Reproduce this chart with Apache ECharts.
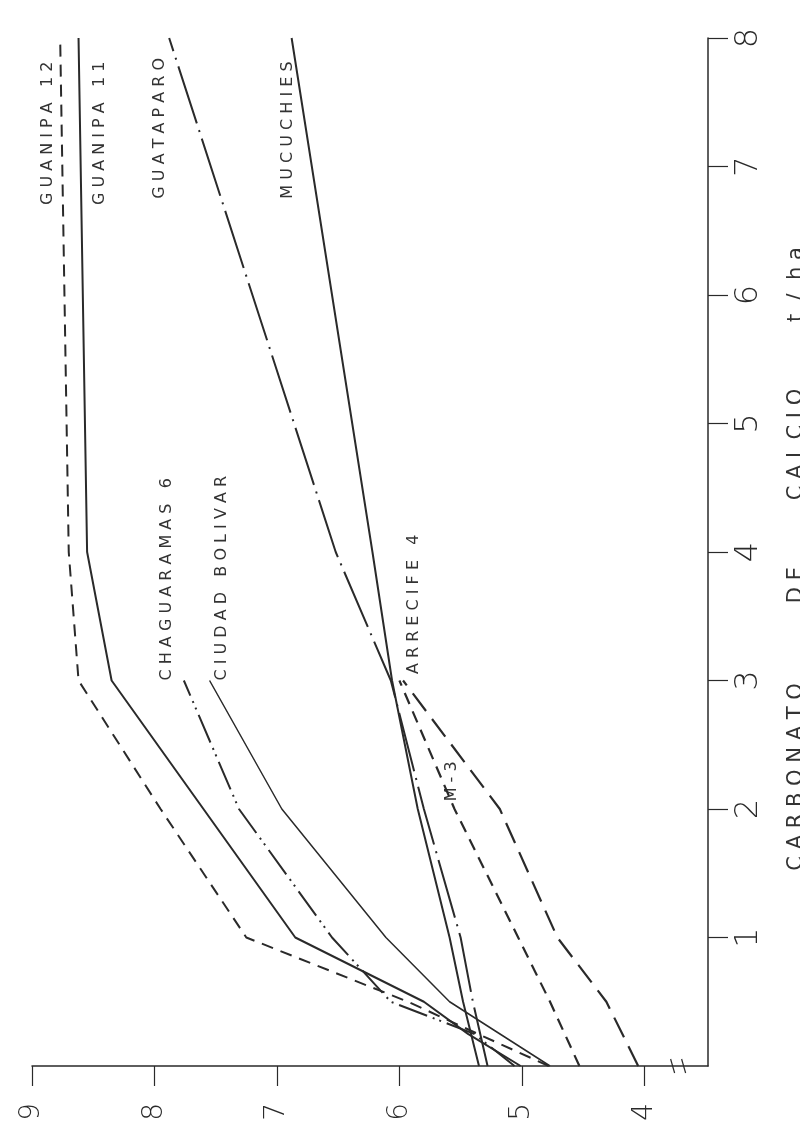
<!DOCTYPE html>
<html>
<head>
<meta charset="utf-8">
<script src="https://cdn.jsdelivr.net/npm/echarts@6.0.0/dist/echarts.min.js"></script>
<style>
html,body{margin:0;padding:0;background:#fff;}
#chart{width:800px;height:1134px;}
</style>
</head>
<body>
<div id="chart"></div>
<script>
// CaCO3 doses (t/ha)
const doses = [0, 0.25, 0.5, 1, 2, 3, 4, 8];
// pH values per soil (null = no measurement)
const guanipa12   = [4.78, 5.36, 5.93, 7.25, 7.95, 8.62, 8.70, 8.77];
const guanipa11   = [5.01, 5.44, 5.80, 6.85, 7.60, 8.35, 8.55, 8.62];
const guataparo   = [5.28, null, 5.40, 5.50, 5.80, 6.07, 6.52, 7.88];
const mucuchies   = [5.35, null, 5.48, 5.59, 5.85, 6.06, 6.22, 6.88];
const chaguaramas = [5.06, 5.39, 6.07, 6.55, 7.31, 7.76, null, null];
const ciudadBol   = [4.77, null, 5.59, 6.11, 6.96, 7.55, null, null];
const arrecife4   = [4.05, null, 4.31, 4.71, 5.18, 5.97, null, null];
const m3          = [4.53, null, 4.77, 5.03, 5.55, 6.00, null, null];
// tick labels
const phTicks = [4, 5, 6, 7, 8, 9];
const doseTicks = [1, 2, 3, 4, 5, 6, 7, 8];

const seriesDefs = [
  {name: 'GUANIPA 12', vals: guanipa12, type: [12, 8], width: 2},
  {name: 'GUANIPA 11', vals: guanipa11, type: 'solid', width: 2},
  {name: 'GUATAPARO', vals: guataparo, type: [60, 7, 2, 7], width: 2},
  {name: 'MUCUCHIES', vals: mucuchies, type: 'solid', width: 2},
  {name: 'CHAGUARAMAS 6', vals: chaguaramas, type: [30, 6, 2, 5, 2, 6], width: 2},
  {name: 'CIUDAD BOLIVAR', vals: ciudadBol, type: 'solid', width: 1.5},
  {name: 'ARRECIFE 4', vals: arrecife4, type: [22, 10], width: 2.2},
  {name: 'M-3', vals: m3, type: [12, 8], width: 2.2}
];

// label anchors (pH, dose at text start) - layout only
const labelDefs = [
  {text: 'G U A N I P A   1 2', ph: 8.87, dose: 6.7},
  {text: 'G U A N I P A   1 1', ph: 8.45, dose: 6.7},
  {text: 'G U A T A P A R O', ph: 7.96, dose: 6.75},
  {text: 'M U C U C H I E S', ph: 6.91, dose: 6.75},
  {text: 'C H A G U A R A M A S   6', ph: 7.9, dose: 3.0},
  {text: 'C I U D A D   B O L I V A R', ph: 7.45, dose: 3.0},
  {text: 'A R R E C I F E   4', ph: 5.88, dose: 3.05},
  {text: 'M - 3', ph: 5.57, dose: 2.06}
];

const chart = echarts.init(document.getElementById('chart'), null, {renderer: 'canvas'});
const ink = '#2a2a2a';

const option = {
  backgroundColor: '#fff',
  animation: false,
  grid: {left: 32, right: 92, top: 38, bottom: 68, containLabel: false},
  xAxis: {
    type: 'value', inverse: true, min: 3.48, max: 9, position: 'bottom',
    axisLine: {show: true, lineStyle: {color: ink, width: 1.5}},
    axisTick: {show: true, length: 20, customValues: phTicks, lineStyle: {color: ink, width: 1.2}},
    axisLabel: {customValues: phTicks, rotate: 90, margin: 37, fontSize: 28, color: ink, fontFamily: 'DejaVu Sans', fontWeight: 200},
    splitLine: {show: false}
  },
  yAxis: {
    type: 'value', min: 0, max: 8, position: 'right',
    axisLine: {show: true, lineStyle: {color: ink, width: 1.5}},
    axisTick: {show: true, length: 20, customValues: doseTicks, lineStyle: {color: ink, width: 1.2}},
    axisLabel: {customValues: doseTicks, rotate: 90, margin: 25, fontSize: 32, color: ink, fontFamily: 'DejaVu Sans', fontWeight: 200},
    splitLine: {show: false}
  },
  series: seriesDefs.map(s => ({
    name: s.name, type: 'line', symbol: 'none', connectNulls: true,
    lineStyle: {color: ink, width: s.width, type: s.type},
    data: doses.map((d, i) => s.vals[i] == null ? null : [s.vals[i], d]).filter(p => p !== null)
  }))
};
chart.setOption(option);

// text labels & decorations placed from data coordinates
const toPx = (ph, d) => chart.convertToPixel({xAxisIndex: 0, yAxisIndex: 0}, [ph, d]);
const graphics = labelDefs.map(l => {
  const p = toPx(l.ph, l.dose);
  return {
    type: 'text', x: p[0], y: p[1], rotation: Math.PI / 2,
    style: {text: l.text, fontSize: 16, fill: '#333', fontFamily: 'DejaVu Sans',
            align: 'left', verticalAlign: 'middle'}
  };
});
// axis title (cut at right edge), starts near dose 1.5
const tStart = toPx(4, 1.52);
graphics.push({
  type: 'text', x: 797, y: tStart[1], rotation: Math.PI / 2,
  style: {text: 'C A R B O N A T O            D E          C A L C I O          t  /  h a', fontSize: 21, fill: '#333',
          fontFamily: 'DejaVu Sans', align: 'left', verticalAlign: 'middle'}
});
// axis break mark
const b = toPx(3.72, 0);
graphics.push({type: 'rect', shape: {x: b[0] - 6, y: b[1] - 4, width: 12, height: 8}, style: {fill: '#fff'}});
graphics.push({type: 'line', shape: {x1: b[0] - 8, y1: b[1] - 7, x2: b[0] - 4, y2: b[1] + 7}, style: {stroke: ink, lineWidth: 1.2}});
graphics.push({type: 'line', shape: {x1: b[0] + 3, y1: b[1] - 7, x2: b[0] + 7, y2: b[1] + 7}, style: {stroke: ink, lineWidth: 1.2}});
chart.setOption({graphic: graphics});
</script>
</body>
</html>
